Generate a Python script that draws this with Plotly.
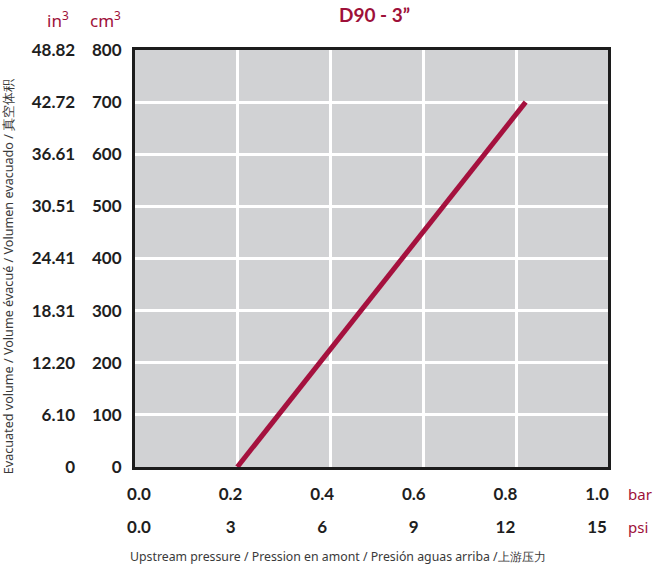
"""D90 - 3 inch evacuated volume vs upstream pressure"""

import plotly.graph_objects as go

# data
pressure_bar = [0.2, 0.82]
volume_cm3 = [0, 700]

bar_ticks = [0.0, 0.2, 0.4, 0.6, 0.8, 1.0]
bar_labels = ["0.0", "0.2", "0.4", "0.6", "0.8", "1.0"]
psi_ticks = [0, 3, 6, 9, 12, 15]
psi_labels = ["0.0", "3", "6", "9", "12", "15"]
cm3_ticks = [0, 100, 200, 300, 400, 500, 600, 700, 800]
cm3_labels = ["0", "100", "200", "300", "400", "500", "600", "700", "800"]
in3_labels = ["0", "6.10", "12.20", "18.31", "24.41", "30.51", "36.61", "42.72", "48.82"]

CRIMSON = "#9e1039"
LINE = "#a5113e"
TICK_FONT = dict(family="Lato", size=17, color="#1e1e1e", weight="bold")
LIGHT_FONT = "Noto Sans"

fig = go.Figure()

fig.add_trace(
    go.Scatter(
        x=pressure_bar,
        y=volume_cm3,
        mode="lines",
        line=dict(color=LINE, width=5),
        showlegend=False,
        hoverinfo="skip",
    )
)

# dummy traces so the label axes get drawn
fig.add_trace(go.Scatter(x=[0], y=[0], xaxis="x2", mode="none", showlegend=False, hoverinfo="skip"))
fig.add_trace(go.Scatter(x=[0], y=[0], xaxis="x3", mode="none", showlegend=False, hoverinfo="skip"))
fig.add_trace(go.Scatter(x=[0], y=[0], yaxis="y2", mode="none", showlegend=False, hoverinfo="skip"))

x_domain = [0.209, 1.0]

fig.update_layout(
    width=656,
    height=578,
    margin=dict(l=10, r=48, t=50, b=111),
    paper_bgcolor="white",
    plot_bgcolor="#d1d2d4",
    xaxis=dict(
        domain=x_domain,
        range=[-0.02, 0.997],
        tickvals=bar_ticks[1:-1],  # inner gridlines only
        showticklabels=False,
        showgrid=True,
        gridcolor="white",
        gridwidth=3,
        zeroline=False,
        showline=True,
        mirror=True,
        linecolor="#1c1c1c",
        linewidth=3,
        ticks="",
        automargin=False,
    ),
    xaxis2=dict(
        overlaying="x",
        anchor="y",
        side="bottom",
        range=[-0.0087, 1.024],
        tickvals=bar_ticks,
        ticktext=bar_labels,
        tickfont=TICK_FONT,
        showgrid=False,
        zeroline=False,
        showline=False,
        ticks="",
        ticklabelstandoff=15,
        automargin=False,
    ),
    xaxis3=dict(
        overlaying="x",
        anchor="y",
        side="bottom",
        range=[-0.0087 * 15, 1.024 * 15],
        tickvals=psi_ticks,
        ticktext=psi_labels,
        tickfont=TICK_FONT,
        showgrid=False,
        zeroline=False,
        showline=False,
        ticks="",
        ticklabelstandoff=48,
        automargin=False,
    ),
    yaxis=dict(
        range=[0, 800],
        tickvals=cm3_ticks,
        ticktext=cm3_labels,
        tickfont=TICK_FONT,
        showgrid=True,
        gridcolor="white",
        gridwidth=3,
        zeroline=False,
        showline=True,
        mirror=True,
        linecolor="#1c1c1c",
        linewidth=3,
        ticks="",
        ticklabelstandoff=7,
        automargin=False,
    ),
    yaxis2=dict(
        overlaying="y",
        anchor="free",
        side="left",
        position=0.109,
        range=[0, 800],
        tickvals=cm3_ticks,
        ticktext=in3_labels,
        tickfont=TICK_FONT,
        showgrid=False,
        zeroline=False,
        showline=False,
        ticks="",
        automargin=False,
    ),
    annotations=[
        dict(
            text="<b>D90 - 3”</b>",
            xref="paper", yref="paper", x=0.609, y=1.0, yshift=36,
            xanchor="center", yanchor="middle", showarrow=False,
            font=dict(family="Lato", size=19, color=CRIMSON),
        ),
        dict(
            text="in<sup>3</sup>",
            xref="paper", yref="paper", x=0.080, y=1.0, yshift=31,
            xanchor="center", yanchor="middle", showarrow=False,
            font=dict(family=LIGHT_FONT, size=17, color=CRIMSON),
        ),
        dict(
            text="cm<sup>3</sup>",
            xref="paper", yref="paper", x=0.159, y=1.0, yshift=31,
            xanchor="center", yanchor="middle", showarrow=False,
            font=dict(family=LIGHT_FONT, size=17, color=CRIMSON),
        ),
        dict(
            text="bar",
            xref="paper", yref="paper", x=1.0, xshift=18, y=0, yshift=-27,
            xanchor="left", yanchor="middle", showarrow=False,
            font=dict(family=LIGHT_FONT, size=15, color=CRIMSON),
        ),
        dict(
            text="psi",
            xref="paper", yref="paper", x=1.0, xshift=18, y=0, yshift=-60,
            xanchor="left", yanchor="middle", showarrow=False,
            font=dict(family=LIGHT_FONT, size=15, color=CRIMSON),
        ),
        dict(
            text="Upstream pressure / Pression en amont / Presión aguas arriba /上游压力",
            xref="paper", yref="paper", x=0.548, y=0, yshift=-89,
            xanchor="center", yanchor="middle", showarrow=False,
            font=dict(family=LIGHT_FONT, size=12.3, color="#3a3a3a"),
        ),
        dict(
            text="Evacuated volume / Volume évacué / Volumen evacuado / 真空体积",
            xref="paper", yref="paper", x=0, xshift=-2, y=0.455,
            xanchor="center", yanchor="middle", textangle=-90, showarrow=False,
            font=dict(family=LIGHT_FONT, size=12.6, color="#3a3a3a"),
        ),
    ],
)

# drop the default body margin so the figure sits at the page origin
fig.write_html(
    "out.html",
    config={"displayModeBar": False},
    post_script="document.body.style.margin = '0';",
)
